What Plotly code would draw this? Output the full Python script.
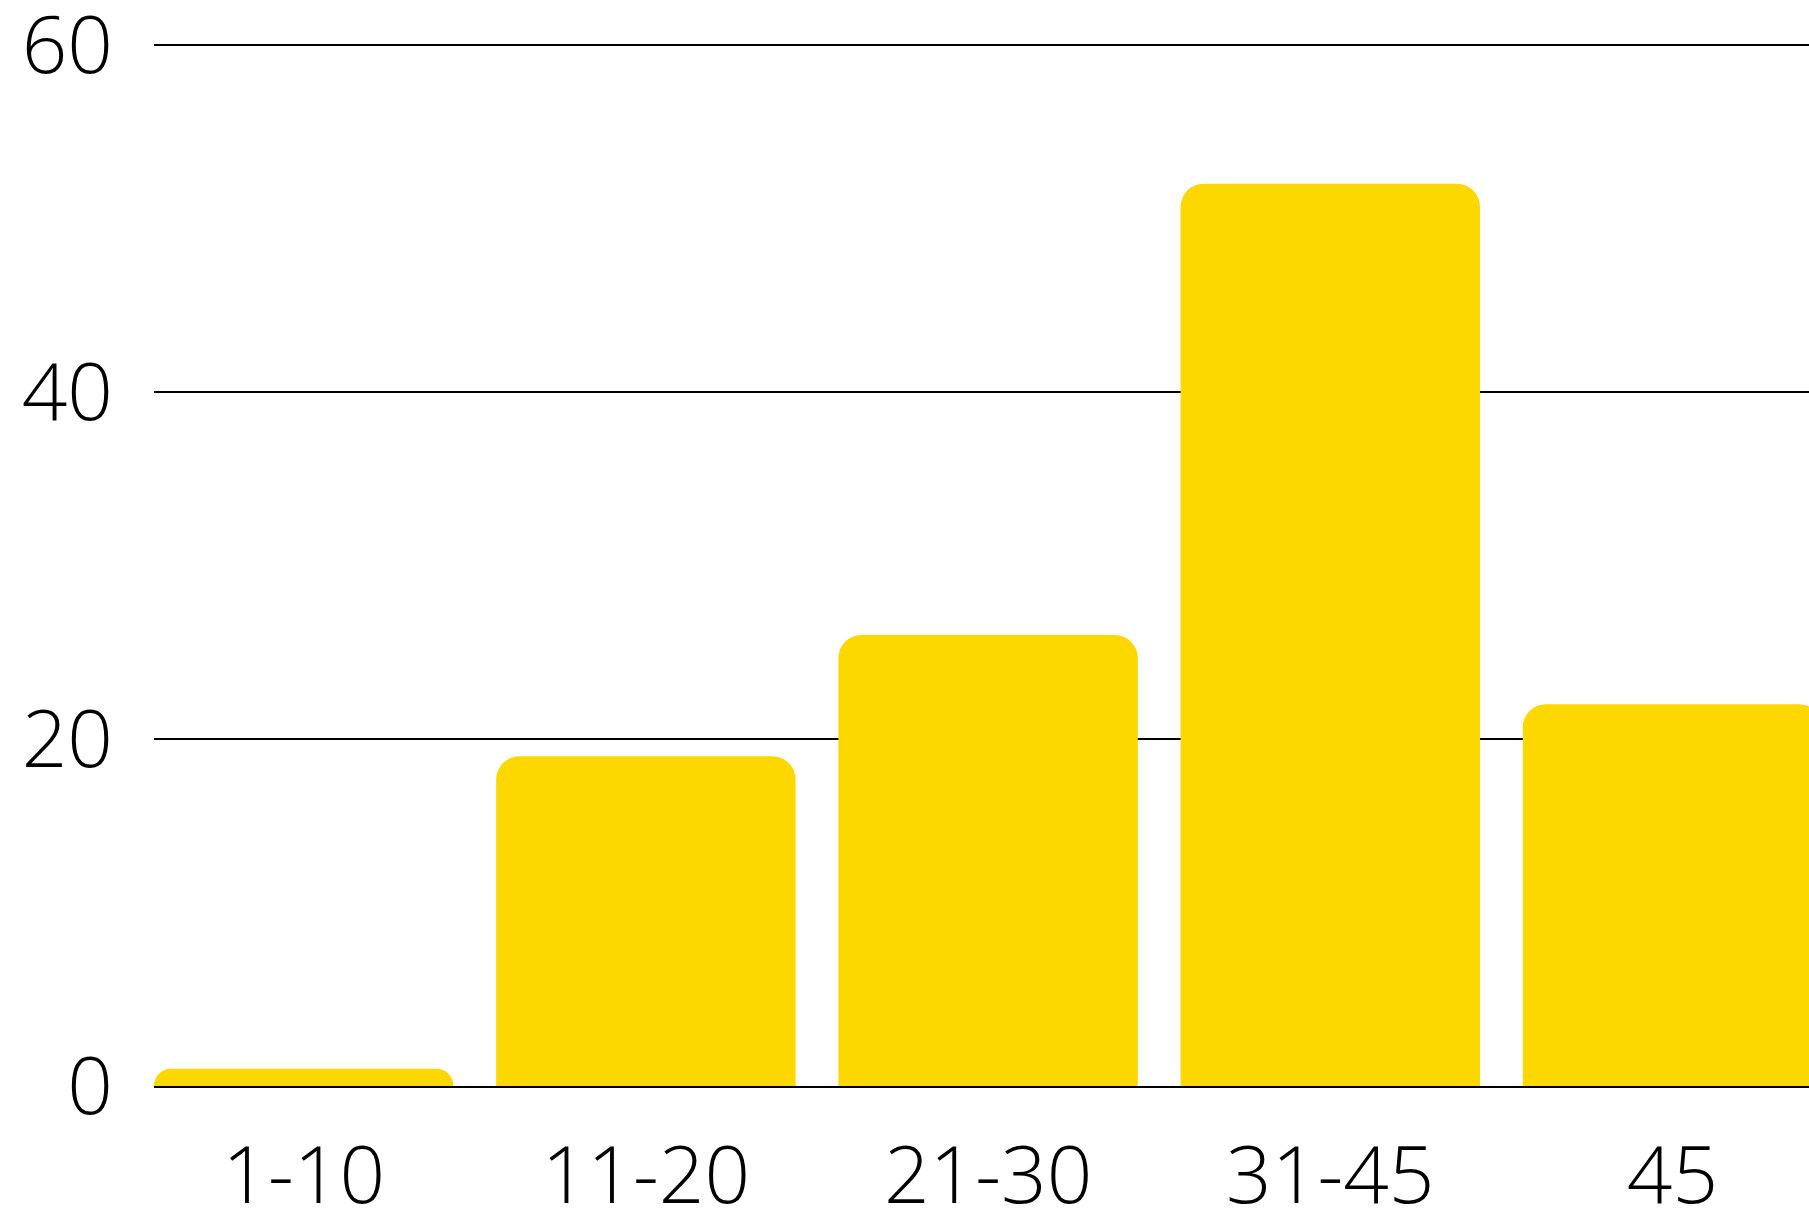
import plotly.graph_objects as go

# age groups and counts
age_groups = ["1-10", "11-20", "21-30", "31-45", "45"]
counts = [1, 19, 26, 52, 22]
y_ticks = [0, 20, 40, 60]

bar_colour = "#FDD700"

fig_w = 1809
fig_h = 1209
left = 154
top = 41
bottom = 123
plot_w = fig_w - left
plot_h = fig_h - top - bottom
px_per_unit = 1041 / 60

fig = go.Figure()
fig.add_trace(go.Bar(
  x=age_groups,
  y=counts,
  marker_color=bar_colour,
  marker_line_width=0,
  marker_cornerradius=23,
))

fig.update_layout(
  width=fig_w,
  height=fig_h,
  margin=dict(l=left, r=0, t=top, b=bottom, autoexpand=False),
  paper_bgcolor="white",
  plot_bgcolor="white",
  bargap=0.125,
  showlegend=False,
  font=dict(family="Open Sans", size=80, color="black", weight=300),
)

fig.update_xaxes(
  type="category",
  range=[-0.4375, -0.4375 + plot_w / 342.2],
  automargin=False,
  showgrid=False,
  zeroline=False,
  showline=True,
  linecolor="black",
  linewidth=1.6,
  ticks="",
  ticklabelstandoff=19,
  ticklabeloverflow="allow",
)

fig.update_yaxes(
  range=[0, plot_h / px_per_unit],
  tickvals=y_ticks,
  automargin=False,
  showgrid=True,
  gridcolor="black",
  gridwidth=1.6,
  zeroline=False,
  ticks="",
  ticklabelstandoff=40,
  ticklabeloverflow="allow",
)

# drop the default body margin so the figure fills the window exactly
fig.write_html(
  "out.html",
  config={"displayModeBar": False},
  post_script="document.body.style.margin='0';document.body.style.overflow='hidden';",
)
